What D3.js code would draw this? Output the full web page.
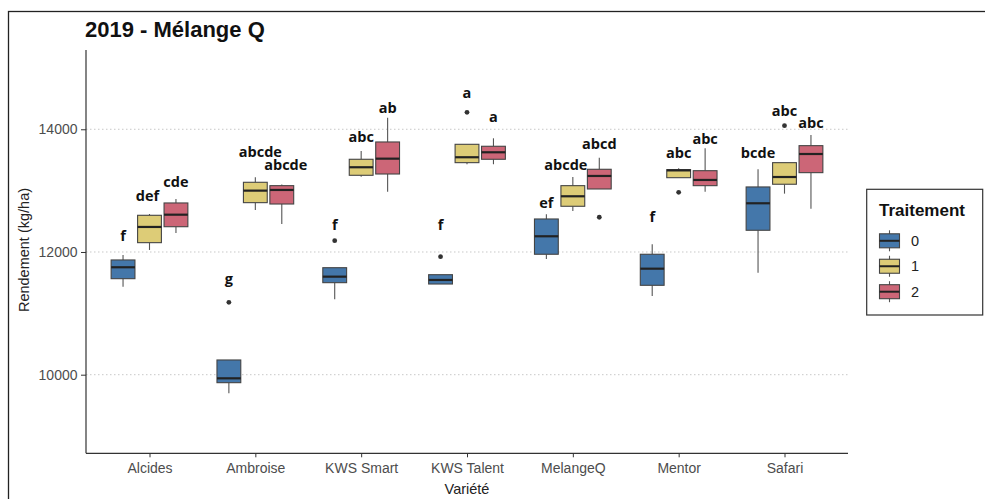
<!DOCTYPE html>
<html>
<head>
<meta charset="utf-8">
<script src="https://cdn.jsdelivr.net/npm/d3@7/dist/d3.min.js"></script>
<style>
  html, body { margin: 0; padding: 0; background: #fff; }
  svg { display: block; }
</style>
</head>
<body>
<svg id="chart" width="985" height="499"></svg>
<script>
// Varieties on the x axis and treatment levels (dodged boxes)
const varietes = ["Alcides", "Ambroise", "KWS Smart", "KWS Talent", "MelangeQ", "Mentor", "Safari"];
const traitements = ["0", "1", "2"];

// Box statistics per treatment, one entry per variety (kg/ha)
const lowWhisker = {
  "0": [11435, 9697, 11229, 11478, 11886, 11283, 11663],
  "1": [12033, 12685, 13227, 13430, 12668, 13211, 12951],
  "2": [12310, 12456, 12983, 13430, 13027, 12983, 12706]
};
const q1 = {
  "0": [11565, 9870, 11500, 11478, 11963, 11457, 12354],
  "1": [12152, 12804, 13250, 13456, 12745, 13211, 13104],
  "2": [12412, 12782, 13271, 13511, 13027, 13081, 13293]
};
const medianVal = {
  "0": [11751, 9941, 11598, 11544, 12256, 11728, 12794],
  "1": [12408, 13000, 13381, 13544, 12908, 13330, 13222],
  "2": [12608, 13011, 13521, 13625, 13239, 13174, 13597]
};
const q3 = {
  "0": [11870, 10240, 11744, 11630, 12538, 11963, 13060],
  "1": [12598, 13136, 13511, 13755, 13081, 13342, 13456],
  "2": [12799, 13081, 13793, 13723, 13348, 13325, 13733]
};
const highWhisker = {
  "0": [11951, 10240, 11744, 11630, 12614, 12126, 13348],
  "1": [12619, 13218, 13646, 13755, 13222, 13364, 13456],
  "2": [12864, 13100, 14189, 13853, 13537, 13690, 13907]
};

// Outlying observations: [variety, treatment, yield]
const outliers = [
  ["Ambroise", "0", 11180],
  ["KWS Smart", "0", 12185],
  ["KWS Talent", "0", 11924],
  ["KWS Talent", "1", 14277],
  ["MelangeQ", "2", 12566],
  ["Mentor", "1", 12973],
  ["Safari", "1", 14059]
];

// Compact letter display and the yield level each letter sits at
const letters = {
  "0": ["f", "g", "f", "f", "ef", "f", "bcde"],
  "1": ["def", "abcde", "abc", "a", "abcde", "abc", "abc"],
  "2": ["cde", "abcde", "ab", "a", "abcd", "abc", "abc"]
};
const letterLevel = {
  "0": [12184, 11478, 12359, 12359, 12722, 12484, 13527],
  "1": [12836, 13553, 13788, 14505, 13337, 13527, 14217],
  "2": [13064, 13337, 14271, 14124, 13679, 13760, 14026]
};

const yTicks = [10000, 12000, 14000];
const colors = { "0": "#4477AA", "1": "#DDCC77", "2": "#CC6677" };

// ---- layout ----
const svg = d3.select("#chart");
const plot = { left: 86, right: 848, top: 50, bottom: 453.3 };

const x = d3.scalePoint().domain(varietes).range([plot.left, plot.right]).padding(0.6);
const step = x.step();
const dodge = d3.scaleBand().domain(traitements)
  .range([-0.375 * step, 0.375 * step]).paddingInner(0.1).paddingOuter(0.05);
const y = d3.scaleLinear().domain([8719, 15292]).range([plot.bottom, plot.top]);

const cx = (v, t) => x(v) + dodge(t) + dodge.bandwidth() / 2;
const bw = dodge.bandwidth();

// outer frame
svg.append("rect")
  .attr("x", 8.5).attr("y", 11.5).attr("width", 1100).attr("height", 700)
  .attr("fill", "none").attr("stroke", "#222").attr("stroke-width", 1.3);

// dotted horizontal grid
svg.append("g").selectAll("line").data(yTicks).join("line")
  .attr("x1", plot.left).attr("x2", plot.right)
  .attr("y1", d => y(d)).attr("y2", d => y(d))
  .attr("stroke", "#c8c8c8").attr("stroke-width", 1)
  .attr("stroke-dasharray", "1.5,2.5");

// axes
const yAxis = svg.append("g").attr("transform", `translate(${plot.left},0)`)
  .call(d3.axisLeft(y).tickValues(yTicks).tickSize(5).tickPadding(3.5).tickFormat(d3.format("d")));
const xAxis = svg.append("g").attr("transform", `translate(0,${plot.bottom})`)
  .call(d3.axisBottom(x).tickSize(4).tickPadding(6));
[yAxis, xAxis].forEach(g => {
  g.select(".domain").attr("stroke", "#333").attr("stroke-width", 1.2);
  g.selectAll(".tick line").attr("stroke", "#333");
  g.selectAll(".tick text").attr("fill", "#4d4d4d")
    .style("font-family", "'Liberation Sans', Arial, sans-serif").style("font-size", "14px");
});
yAxis.select(".domain").attr("d", `M0,${plot.top}V${plot.bottom}`);
xAxis.select(".domain").attr("d", `M${plot.left},0H${plot.right}`);

// boxplots
const rows = [];
traitements.forEach(t => varietes.forEach((v, i) => rows.push({
  v, t, lo: lowWhisker[t][i], q1: q1[t][i], med: medianVal[t][i], q3: q3[t][i], hi: highWhisker[t][i]
})));

const boxes = svg.append("g").selectAll("g").data(rows).join("g");
boxes.append("line")
  .attr("x1", d => cx(d.v, d.t)).attr("x2", d => cx(d.v, d.t))
  .attr("y1", d => y(d.hi)).attr("y2", d => y(d.q3))
  .attr("stroke", "#555").attr("stroke-width", 1.1);
boxes.append("line")
  .attr("x1", d => cx(d.v, d.t)).attr("x2", d => cx(d.v, d.t))
  .attr("y1", d => y(d.q1)).attr("y2", d => y(d.lo))
  .attr("stroke", "#555").attr("stroke-width", 1.1);
boxes.append("rect")
  .attr("x", d => cx(d.v, d.t) - bw / 2).attr("width", bw)
  .attr("y", d => y(d.q3)).attr("height", d => y(d.q1) - y(d.q3))
  .attr("fill", d => colors[d.t]).attr("stroke", "#444").attr("stroke-width", 1.1);
boxes.append("line")
  .attr("x1", d => cx(d.v, d.t) - bw / 2).attr("x2", d => cx(d.v, d.t) + bw / 2)
  .attr("y1", d => y(d.med)).attr("y2", d => y(d.med))
  .attr("stroke", "#222").attr("stroke-width", 2.2);

svg.append("g").selectAll("circle").data(outliers).join("circle")
  .attr("cx", d => cx(d[0], d[1])).attr("cy", d => y(d[2])).attr("r", 2.4)
  .attr("fill", "#333");

// letter labels; a few are nudged sideways so neighbours don't collide
const nudge = { "Ambroise|1": 5, "Ambroise|2": 4, "MelangeQ|1": -7, "Alcides|1": -2 };
const lab = [];
traitements.forEach(t => varietes.forEach((v, i) => lab.push({ v, t, txt: letters[t][i], lvl: letterLevel[t][i] })));
svg.append("g").selectAll("text").data(lab).join("text")
  .attr("x", d => cx(d.v, d.t) + (nudge[d.v + "|" + d.t] || 0))
  .attr("y", d => y(d.lvl))
  .attr("text-anchor", "middle")
  .style("font-family", "'Open Sans', 'Noto Sans', sans-serif")
  .style("font-weight", "700").style("font-size", "14.5px").attr("fill", "#111")
  .text(d => d.txt);

// titles
svg.append("text").attr("x", 85).attr("y", 36.7)
  .style("font-family", "'Liberation Sans', Arial, sans-serif")
  .style("font-weight", "700").style("font-size", "22px").attr("fill", "#111")
  .text("2019 - Mélange Q");
svg.append("text").attr("x", (plot.left + plot.right) / 2).attr("y", 494)
  .attr("text-anchor", "middle")
  .style("font-family", "'Liberation Sans', Arial, sans-serif").style("font-size", "14.5px").attr("fill", "#222")
  .text("Variété");
svg.append("text").attr("transform", "translate(28.5,250) rotate(-90)")
  .attr("text-anchor", "middle")
  .style("font-family", "'Liberation Sans', Arial, sans-serif").style("font-size", "14.5px").attr("fill", "#222")
  .text("Rendement (kg/ha)");

// legend
const lg = svg.append("g");
lg.append("rect").attr("x", 866.7).attr("y", 189.3).attr("width", 116).attr("height", 125.7)
  .attr("fill", "#fff").attr("stroke", "#333").attr("stroke-width", 1.2);
lg.append("text").attr("x", 879).attr("y", 216)
  .style("font-family", "'Liberation Sans', Arial, sans-serif")
  .style("font-weight", "700").style("font-size", "17px").attr("fill", "#111")
  .text("Traitement");
const keyY = d3.scalePoint().domain(traitements).range([240.8, 291.7]);
const keys = lg.selectAll("g.key").data(traitements).join("g").attr("class", "key")
  .attr("transform", d => `translate(879,${keyY(d)})`);
keys.append("line").attr("x1", 10.5).attr("x2", 10.5).attr("y1", -10.5).attr("y2", 10.5)
  .attr("stroke", "#555").attr("stroke-width", 1.1);
keys.append("rect").attr("x", 0.5).attr("y", -7).attr("width", 20).attr("height", 14)
  .attr("fill", d => colors[d]).attr("stroke", "#444").attr("stroke-width", 1.1);
keys.append("line").attr("x1", 0.5).attr("x2", 20.5).attr("y1", 0).attr("y2", 0)
  .attr("stroke", "#222").attr("stroke-width", 2);
keys.append("text").attr("x", 32).attr("y", 0).attr("dy", "0.36em")
  .style("font-family", "'Liberation Sans', Arial, sans-serif").style("font-size", "14.5px").attr("fill", "#222")
  .text(d => d);
</script>
</body>
</html>
